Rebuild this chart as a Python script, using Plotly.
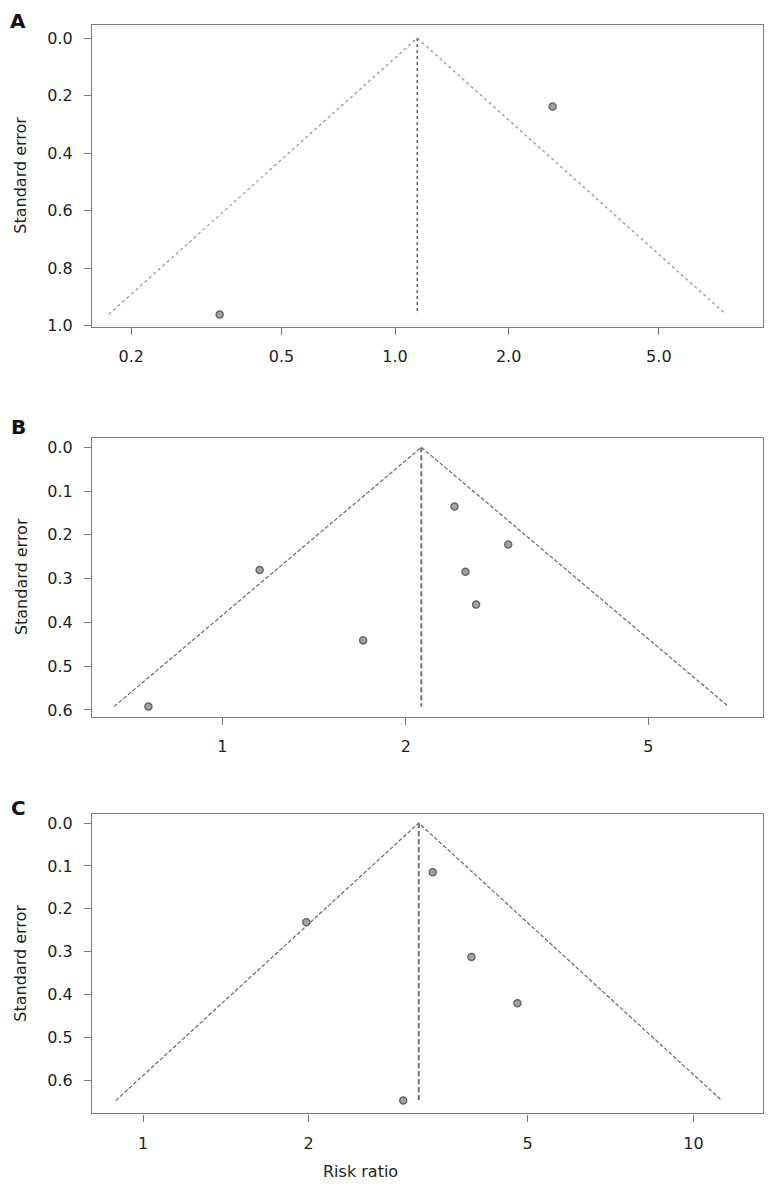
import numpy as np
import plotly.graph_objects as go
from plotly.subplots import make_subplots

# panel A
rr_a = [0.343, 2.615]
se_a = [0.961, 0.238]
pooled_a = 1.145
semax_a = 0.96
xticks_a = [0.2, 0.5, 1.0, 2.0, 5.0]
xlabels_a = ["0.2", "0.5", "1.0", "2.0", "5.0"]
yticks_a = [0.0, 0.2, 0.4, 0.6, 0.8, 1.0]

# panel B
rr_b = [0.756, 1.151, 1.702, 2.403, 2.944, 2.505, 2.608]
se_b = [0.592, 0.280, 0.441, 0.135, 0.222, 0.284, 0.359]
pooled_b = 2.12
semax_b = 0.592
xticks_b = [1, 2, 5]
xlabels_b = ["1", "2", "5"]
yticks_b = [0.0, 0.1, 0.2, 0.3, 0.4, 0.5, 0.6]

# panel C
rr_c = [1.98, 2.97, 3.36, 3.95, 4.79]
se_c = [0.231, 0.647, 0.115, 0.3125, 0.42]
pooled_c = 3.17
semax_c = 0.647
xticks_c = [1, 2, 5, 10]
xlabels_c = ["1", "2", "5", "10"]
yticks_c = [0.0, 0.1, 0.2, 0.3, 0.4, 0.5, 0.6]

# page has an 8px body margin, so the figure is 16px smaller than the window
OFF = 8
W, H = 774 - 2 * OFF, 1194 - 2 * OFF
axis_col = '#7a7a7a'
text_col = '#231f20'
font = "DejaVu Sans"


def px(v):
    return v - OFF


fig = make_subplots(rows=3, cols=1)

panels = [
    dict(rr=rr_a, se=se_a, pooled=pooled_a, semax=semax_a, xt=xticks_a, xl=xlabels_a, yt=yticks_a,
         xr=[-0.803, 0.975], yr=[1.003, -0.046], top=25, bot=329, letter="A", ly=8,
         fdash='dot', fcol='#9a9a9a', fw=1.3, vdash='dot', vcol='#6f6f6f', vw=1.6),
    dict(rr=rr_b, se=se_b, pooled=pooled_b, semax=semax_b, xt=xticks_b, xl=xlabels_b, yt=yticks_b,
         xr=[-0.214, 0.887], yr=[0.615, -0.022], top=441, bot=722, letter="B", ly=417,
         fdash='4px,2px', fcol='#6a6a6a', fw=1.2, vdash='5px,3px', vcol='#707070', vw=2),
    dict(rr=rr_c, se=se_c, pooled=pooled_c, semax=semax_c, xt=xticks_c, xl=xlabels_c, yt=yticks_c,
         xr=[-0.0927, 1.1265], yr=[0.677, -0.0215], top=820, bot=1122, letter="C", ly=801,
         fdash='4px,2px', fcol='#6a6a6a', fw=1.2, vdash='5px,3px', vcol='#707070', vw=2),
]

x0, x1 = px(92) / W, px(763) / W
annotations = []
for i, p in enumerate(panels, start=1):
    # pseudo 95% confidence limits
    lo = p["pooled"] * np.exp(-1.96 * p["semax"])
    hi = p["pooled"] * np.exp(1.96 * p["semax"])
    fig.add_trace(go.Scatter(x=[lo, p["pooled"], hi], y=[p["semax"], 0, p["semax"]],
                             mode="lines", showlegend=False, hoverinfo='none',
                             line=dict(color=p["fcol"], dash=p["fdash"], width=p["fw"])),
                  row=i, col=1)
    fig.add_trace(go.Scatter(x=[p["pooled"], p["pooled"]], y=[0, p["semax"]],
                             mode="lines", showlegend=False, hoverinfo='none',
                             line=dict(color=p["vcol"], dash=p["vdash"], width=p["vw"])),
                  row=i, col=1)
    fig.add_trace(go.Scatter(x=p["rr"], y=p["se"], mode="markers", showlegend=False,
                             marker=dict(size=7, color='#a3a3a3',
                                         line=dict(color='#666666', width=1.5))),
                  row=i, col=1)

    fig.update_xaxes(type='log', range=p["xr"], tickvals=p["xt"], ticktext=p["xl"],
                     domain=[x0, x1], showgrid=False, zeroline=False,
                     showline=True, linecolor=axis_col, linewidth=1.2, mirror=True,
                     ticks='outside', ticklen=7, tickcolor=axis_col, tickwidth=1.2,
                     ticklabelstandoff=8,
                     tickfont=dict(family=font, size=16, color=text_col),
                     row=i, col=1)
    fig.update_yaxes(range=p["yr"], tickvals=p["yt"], tickformat=".1f",
                     domain=[1 - px(p["bot"]) / H, 1 - px(p["top"]) / H],
                     showgrid=False, zeroline=False,
                     showline=True, linecolor=axis_col, linewidth=1.2, mirror=True,
                     ticks='outside', ticklen=7, tickcolor=axis_col, tickwidth=1.2,
                     ticklabelstandoff=8,
                     tickfont=dict(family=font, size=16, color=text_col),
                     row=i, col=1)

    annotations.append(dict(text="<b>" + p["letter"] + "</b>", xref='paper', yref='paper',
                            x=px(18) / W, y=1 - px(p["ly"]) / H, xanchor='center', yanchor='top',
                            borderpad=0, showarrow=False,
                            font=dict(family=font, size=20, color='#111111')))
    annotations.append(dict(text="Standard error", xref='paper', yref='paper', textangle=-90,
                            x=px(21) / W, y=1 - px((p["top"] + p["bot"]) / 2) / H,
                            xanchor='center', yanchor='middle', showarrow=False,
                            font=dict(family=font, size=16, color=text_col)))

annotations.append(dict(text="Risk ratio", xref='paper', yref='paper',
                        x=px(360) / W, y=1 - px(1180) / H, xanchor='center', yanchor='middle',
                        showarrow=False, font=dict(family=font, size=16, color=text_col)))

fig.update_layout(width=W, height=H, margin=dict(l=0, r=0, t=0, b=0),
                  plot_bgcolor='white', paper_bgcolor='white',
                  annotations=annotations)

fig.write_html("out.html")
